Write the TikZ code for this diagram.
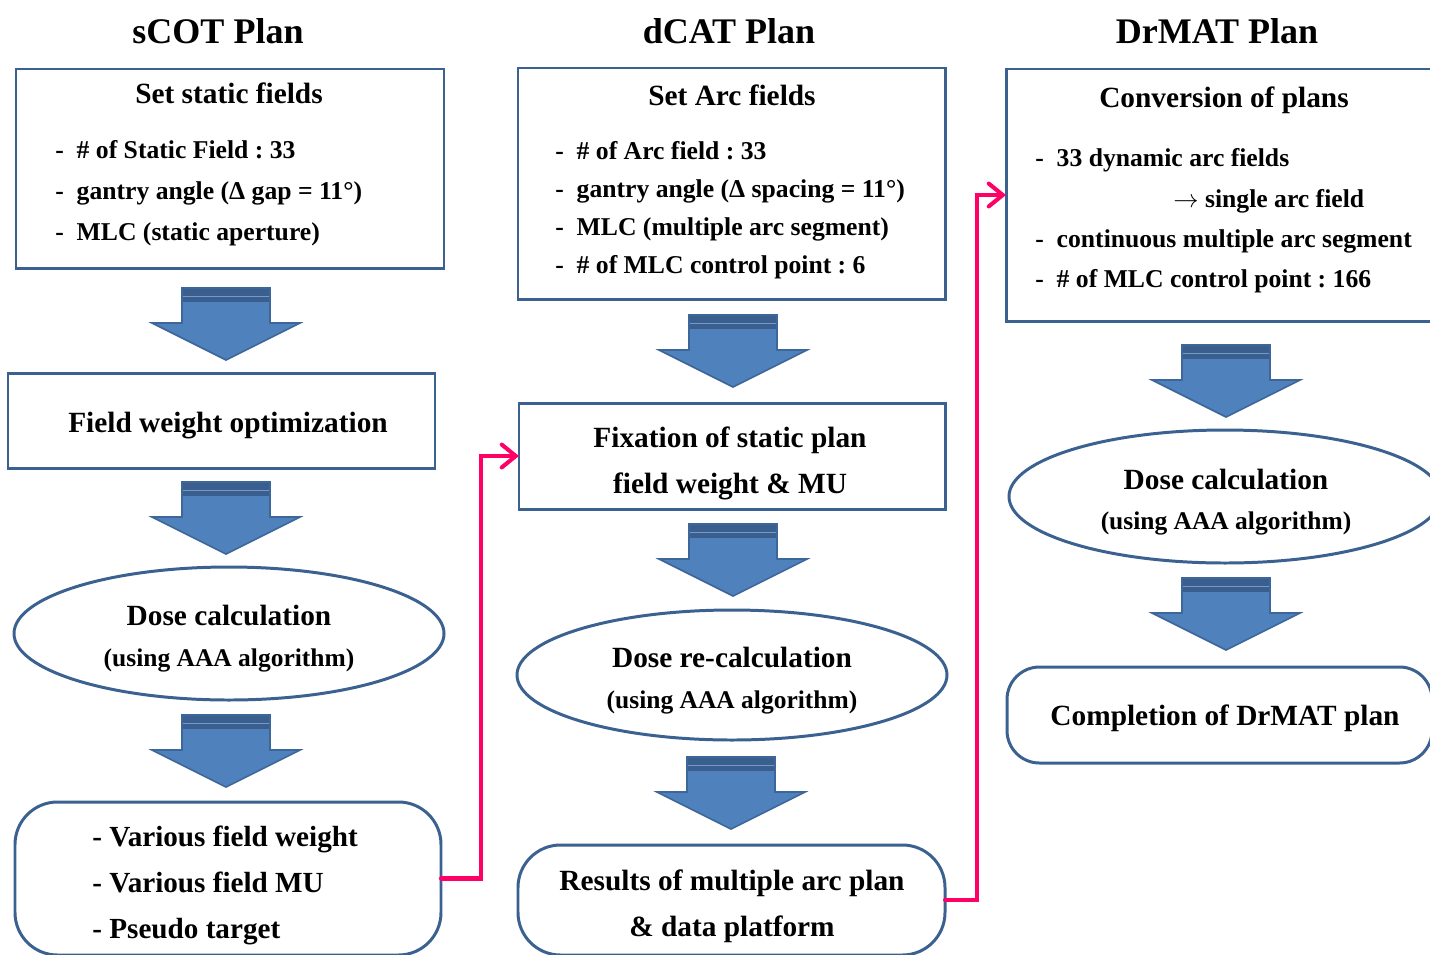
\documentclass[tikz,border=0pt]{standalone}
\usepackage{fontspec}
\setmainfont{Liberation Serif}
\usetikzlibrary{shapes.geometric,arrows.meta}
\definecolor{boxblue}{HTML}{3B6190}
\definecolor{arrfill}{HTML}{4F81BD}
\definecolor{arrdark}{HTML}{3A5F8E}
\definecolor{arrline}{HTML}{3D6699}
\definecolor{linkpink}{HTML}{FF0066}
\frenchspacing
\begin{document}
\begin{tikzpicture}[x=0.02cm,y=-0.02cm,
  sz/.style 2 args={minimum width=#1*0.02cm, minimum height=#2*0.02cm, inner sep=0pt, outer sep=0pt},
  sqbox/.style={draw=boxblue, line width=1.7pt, rectangle},
  rbox/.style={draw=boxblue, line width=1.7pt, rectangle, rounded corners=0.85cm},
  ellbox/.style={draw=boxblue, line width=1.7pt, ellipse},
  ttl/.style={font=\bfseries\fontsize{20.5}{24}\selectfont, anchor=base, inner sep=0pt},
  big/.style={font=\bfseries\fontsize{16.7}{20}\selectfont, anchor=base, inner sep=0pt},
  bigl/.style={font=\bfseries\fontsize{16.6}{20}\selectfont, anchor=base west, inner sep=0pt},
  sml/.style={font=\bfseries\fontsize{14.6}{18}\selectfont, anchor=base west, inner sep=0pt},
  smc/.style={font=\bfseries\fontsize{14.5}{18}\selectfont, anchor=base, inner sep=0pt},
  link/.style={draw=linkpink, line width=2.3pt, line cap=round, line join=miter,
    -{Straight Barb[length=8pt,width=13pt,line cap=round]}},
  blkarrow/.pic={
    \path[fill=arrfill,draw=arrline,line width=0.9pt,line join=miter]
      (-44,0) -- (44,0) -- (44,35) -- (74,35) -- (0,72) -- (-74,35) -- (-44,35) -- cycle;
    \fill[arrdark] (-44,0) rectangle (44,14);
    \draw[arrfill!80!white,line width=0.5pt] (-43,8) -- (43,8);
    \draw[arrline,line width=0.9pt] (-44,35) -- (-44,0) -- (44,0) -- (44,35);
  }]
\useasboundingbox (0,0) rectangle (1430,954);
\fill[white] (0,0) rectangle (1430,954);
\clip (0,0) rectangle (1430,954);

% ---------------- sCOT column ----------------
\node[ttl] (t1) at (218,43) {sCOT Plan};
\node[sqbox, sz={428}{199}] (s1) at (230,168.5) {};
\node[big] (s1t) at (229,103) {Set static fields};
\node[sml] (s1a) at (55,158) {-\hspace{0.5em}\# of Static Field : 33};
\node[sml] (s1b) at (55,199) {-\hspace{0.5em}gantry angle (Δ gap = 11°)};
\node[sml] (s1c) at (55,240) {-\hspace{0.5em}MLC (static aperture)};
\pic (a1) at (226,288) {blkarrow};
\node[sqbox, sz={427}{95}] (s2) at (221.5,420.5) {};
\node[big] (s2t) at (228,432) {Field weight optimization};
\pic (a2) at (226,482) {blkarrow};
\node[ellbox, sz={430}{133}] (s3) at (229,633.5) {};
\node[big] (s3t) at (229,625) {Dose calculation};
\node[smc] (s3s) at (229,666) {(using AAA algorithm)};
\pic (a3) at (226,715) {blkarrow};
\node[rbox, sz={426}{153}] (s4) at (228,878.5) {};
\node[bigl] (s4a) at (92,846) {- Various field weight};
\node[bigl] (s4b) at (92,892) {- Various field MU};
\node[bigl] (s4c) at (92,938) {- Pseudo target};

% ---------------- dCAT column ----------------
\node[ttl] (t2) at (729,43) {dCAT Plan};
\node[sqbox, sz={427}{231}] (d1) at (731.5,183.5) {};
\node[big] (d1t) at (732,105) {Set Arc fields};
\node[sml] (d1a) at (555,159) {-\hspace{0.5em}\# of Arc field : 33};
\node[sml] (d1b) at (555,197) {-\hspace{0.5em}gantry angle (Δ spacing = 11°)};
\node[sml] (d1c) at (555,235) {-\hspace{0.5em}MLC (multiple arc segment)};
\node[sml] (d1d) at (555,273) {-\hspace{0.5em}\# of MLC control point : 6};
\pic (b1) at (733,315) {blkarrow};
\node[sqbox, sz={426}{106}] (d2) at (732,456) {};
\node[big] (d2a) at (730,447) {Fixation of static plan};
\node[big] (d2b) at (730,493) {field weight \& MU};
\pic (b2) at (733,524) {blkarrow};
\node[ellbox, sz={430}{130}] (d3) at (732,675) {};
\node[big] (d3t) at (732,667) {Dose re-calculation};
\node[smc] (d3s) at (732,708) {(using AAA algorithm)};
\pic (b3) at (731,757) {blkarrow};
\node[rbox, sz={427}{110}] (d4) at (731.5,900) {};
\node[big] (d4a) at (732,890) {Results of multiple arc plan};
\node[big] (d4b) at (732,936) {\& data platform};

% ---------------- DrMAT column ----------------
\node[ttl] (t3) at (1217,43) {DrMAT Plan};
\node[sqbox, sz={439}{252}] (m1) at (1225.5,195) {};
\node[big] (m1t) at (1224,107) {Conversion of plans};
\node[sml] (m1a) at (1035,166) {-\hspace{0.5em}33 dynamic arc fields};
\node[sml] (m1b) at (1173,207) {$\rightarrow$ single arc field};
\node[sml] (m1c) at (1035,247) {-\hspace{0.5em}continuous multiple arc segment};
\node[sml] (m1d) at (1035,287) {-\hspace{0.5em}\# of MLC control point : 166};
\pic (c1) at (1226,345) {blkarrow};
\node[ellbox, sz={432}{133}] (m2) at (1225,496.5) {};
\node[big] (m2t) at (1226,489) {Dose calculation};
\node[smc] (m2s) at (1226,529) {(using AAA algorithm)};
\pic (c2) at (1226,578) {blkarrow};
\node[rbox, sz={425}{96}, rounded corners=0.65cm] (m3) at (1219.5,715) {};
\node[big] (m3t) at (1225,725) {Completion of DrMAT plan};

% ---------------- pink links ----------------
\draw[link] (s4.east) -- ++(40,0) |- (d2.west);
\draw[link] (d4.east) -- ++(32,0) |- (m1.west);
\end{tikzpicture}
\end{document}
